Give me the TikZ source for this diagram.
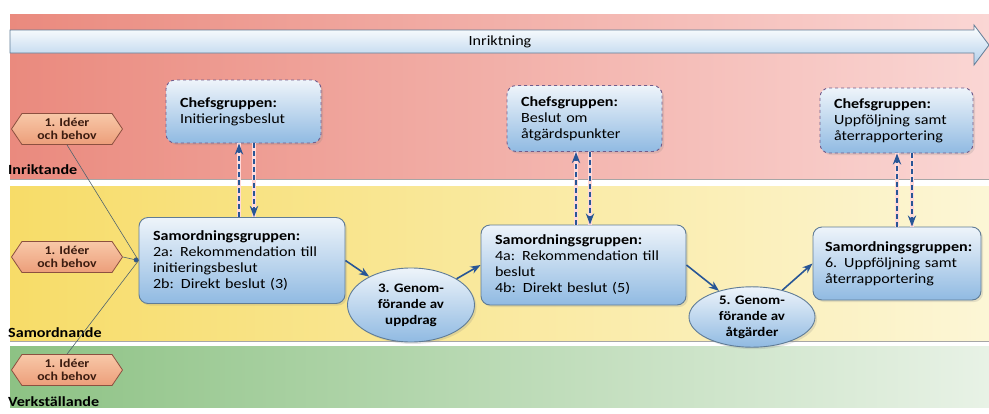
\documentclass[tikz,border=0pt]{standalone}
\usepackage{fontspec}
\setmainfont{Carlito}[FakeStretch=1.15]
\usepackage{tikz}
\usetikzlibrary{positioning,shapes.geometric,shapes.symbols,arrows.meta,shadows}

\definecolor{redL}{RGB}{234,138,126}
\definecolor{redR}{RGB}{250,214,212}
\definecolor{yelL}{RGB}{247,220,104}
\definecolor{yelR}{RGB}{252,246,214}
\definecolor{grnL}{RGB}{141,194,132}
\definecolor{grnR}{RGB}{232,242,230}
\definecolor{boxtop}{RGB}{238,244,250}
\definecolor{boxbot}{RGB}{144,186,226}
\definecolor{samline}{RGB}{96,124,150}
\definecolor{chefsline}{RGB}{112,92,140}
\definecolor{ideatop}{RGB}{248,200,168}
\definecolor{ideabot}{RGB}{236,158,122}
\definecolor{idealine}{RGB}{140,80,64}
\definecolor{ideatext}{RGB}{60,28,16}
\definecolor{flowblue}{RGB}{40,86,150}
\definecolor{feedline}{RGB}{80,100,110}

\tikzset{%
  every box/.style={
    rectangle,
    rounded corners=9pt,
    top color=boxtop,
    bottom color=boxbot,
    align=left,
    inner xsep=14pt,
    font=\fontsize{14}{16}\selectfont,
    drop shadow={opacity=0.2, shadow xshift=2pt, shadow yshift=-2pt}
  },
  chefs box/.style={
    draw=chefsline,
    dashed,
    line width=0.9pt
  },
  samord box/.style={
    draw=samline,
    line width=0.9pt
  },
  genom/.style={
    ellipse,
    draw=samline,
    line width=0.9pt,
    top color=boxtop,
    bottom color=boxbot,
    align=center,
    inner sep=0pt,
    font=\fontsize{13}{16}\selectfont\bfseries,
    drop shadow={opacity=0.2, shadow xshift=2pt, shadow yshift=-2pt}
  },
  idea/.style={
    signal,
    signal to=west and east,
    signal pointer angle=112,
    draw=idealine,
    line width=0.8pt,
    top color=ideatop,
    bottom color=ideabot,
    text=ideatext,
    align=center,
    inner sep=0pt,
    minimum width=111pt,
    minimum height=31pt,
    font=\fontsize{12}{13}\selectfont\bfseries
  },
  level label/.style={
    anchor=west,
    inner sep=1pt,
    font=\fontsize{14}{16}\selectfont\bfseries
  },
  flow/.style={
    ->,
    draw=flowblue,
    line width=1.6pt
  },
  feed/.style={
    draw=feedline,
    line width=0.6pt
  },
  dashlink/.style={
    draw=flowblue,
    line width=1.8pt,
    dash pattern=on 5pt off 3pt,
    preaction={draw=white!85!red, -, solid, line width=4pt}
  },
}

\begin{document}
\begin{tikzpicture}[x=1pt, y=-1pt, >=Stealth]
        \useasboundingbox (0,0) rectangle (989,413);

        %%%%%%%%%%%%%%%%%%%%%%%%%%%%%%%%%%%%%%%%%%%%
        % Levels
        %%%%%%%%%%%%%%%%%%%%%%%%%%%%%%%%%%%%%%%%%%%%

        % Bands
        \shade [left color=redL, right color=redR] (10,14) rectangle (989,179);
        \shade [left color=yelL, right color=yelR] (10,186) rectangle (989,341);
        \shade [left color=grnL, right color=grnR] (10,346) rectangle (989,407);
        \draw [gray!70, line width=0.6pt] (10,179) -- (989,179);
        \draw [gray!70, line width=0.6pt] (10,341) -- (989,341);

        % Labeling
        \foreach \l/\y [count=\i] in {Inriktande/170, Samordnande/333, Verkställande/402}
            \node [level label] (level-\i) at (7,\y) {\l};

        % Direction arrow
        \shade [draw=samline, line width=0.8pt, top color=white, bottom color=boxbot!70]
            (10,30) -- (974,30) -- (974,25) -- (989,45) -- (974,65) -- (974,53) -- (10,53) -- cycle;
        \node [font=\fontsize{14}{16}\selectfont] (direction) at (500,42) {Inriktning};

        %%%%%%%%%%%%%%%%%%%%%%%%%%%%%%%%%%%%%%%%%%%%
        % Ideas
        %%%%%%%%%%%%%%%%%%%%%%%%%%%%%%%%%%%%%%%%%%%%
        \foreach \y [count=\i] in {129,257,370}
            \node [idea] (idea-\i) at (67,\y) {1. Idéer\\och behov};

        %%%%%%%%%%%%%%%%%%%%%%%%%%%%%%%%%%%%%%%%%%%%
        % Chefsgruppen
        %%%%%%%%%%%%%%%%%%%%%%%%%%%%%%%%%%%%%%%%%%%%
        \node [every box, chefs box, text width=127pt, minimum height=63pt] (chefs-1) at (243.5,111.5)
            {\textbf{Chefsgruppen:}\\Initieringsbeslut};
        \node [every box, chefs box, text width=127pt, minimum height=66pt] (chefs-2) at (584.5,118.5)
            {\textbf{Chefsgruppen:}\\Beslut om\\åtgärdspunkter};
        \node [every box, chefs box, text width=125pt, minimum height=65pt] (chefs-3) at (896.5,120.5)
            {\textbf{Chefsgruppen:}\\Uppföljning samt\\återrapportering};

        %%%%%%%%%%%%%%%%%%%%%%%%%%%%%%%%%%%%%%%%%%%%
        % Samordningsgruppen
        %%%%%%%%%%%%%%%%%%%%%%%%%%%%%%%%%%%%%%%%%%%%
        \node [every box, samord box, text width=178pt, minimum height=86pt] (samord-1) at (242,260.5)
            {\textbf{Samordningsgruppen:}\\2a: Rekommendation till\\initieringsbeslut\\2b: Direkt beslut (3)};
        \node [every box, samord box, text width=177pt, minimum height=80pt] (samord-2) at (583.5,265)
            {\textbf{Samordningsgruppen:}\\4a: Rekommendation till\\beslut\\4b: Direkt beslut (5)};
        \node [every box, samord box, text width=144pt, minimum height=73pt, inner xsep=12pt] (samord-3) at (897,263.5)
            {\textbf{Samordningsgruppen:}\\6. Uppföljning samt\\återrapportering};

        %%%%%%%%%%%%%%%%%%%%%%%%%%%%%%%%%%%%%%%%%%%%
        % Genomförande
        %%%%%%%%%%%%%%%%%%%%%%%%%%%%%%%%%%%%%%%%%%%%
        \node [genom, minimum width=127pt, minimum height=74pt] (genom-1) at (411,305)
            {3. Genom-\\förande av\\uppdrag};
        \node [genom, minimum width=126pt, minimum height=60pt] (genom-2) at (752,317)
            {5. Genom-\\förande av\\åtgärder};

        %%%%%%%%%%%%%%%%%%%%%%%%%%%%%%%%%%%%%%%%%%%%
        % Connecting
        %%%%%%%%%%%%%%%%%%%%%%%%%%%%%%%%%%%%%%%%%%%%

        % Ideas to samordningsgruppen
        \draw [feed] (idea-1.south) -- (samord-1.west);
        \draw [feed] (idea-3.north) -- (samord-1.west);
        \draw [feed, -{Circle[length=5pt, fill=flowblue]}] (idea-2.east) -- (samord-1.west);

        % Chefsgruppen and samordningsgruppen
        \foreach \a/\b [count=\i] in {-4.5/10.5, -8.5/5.5, 0.5/15.5} {
            \draw [dashlink, ->] ([xshift=\a pt]chefs-\i.south |- samord-\i.north) -- ([xshift=\a pt]chefs-\i.south);
            \draw [dashlink, ->] ([xshift=\b pt]chefs-\i.south) -- ([xshift=\b pt]chefs-\i.south |- samord-\i.north);
        }

        % Flow
        \draw [flow] (samord-1.east) -- (genom-1);
        \draw [flow] (genom-1) -- (samord-2.west);
        \draw [flow] (samord-2.east) -- (genom-2);
        \draw [flow] (genom-2) -- (samord-3.west);
    \end{tikzpicture}
\end{document}
